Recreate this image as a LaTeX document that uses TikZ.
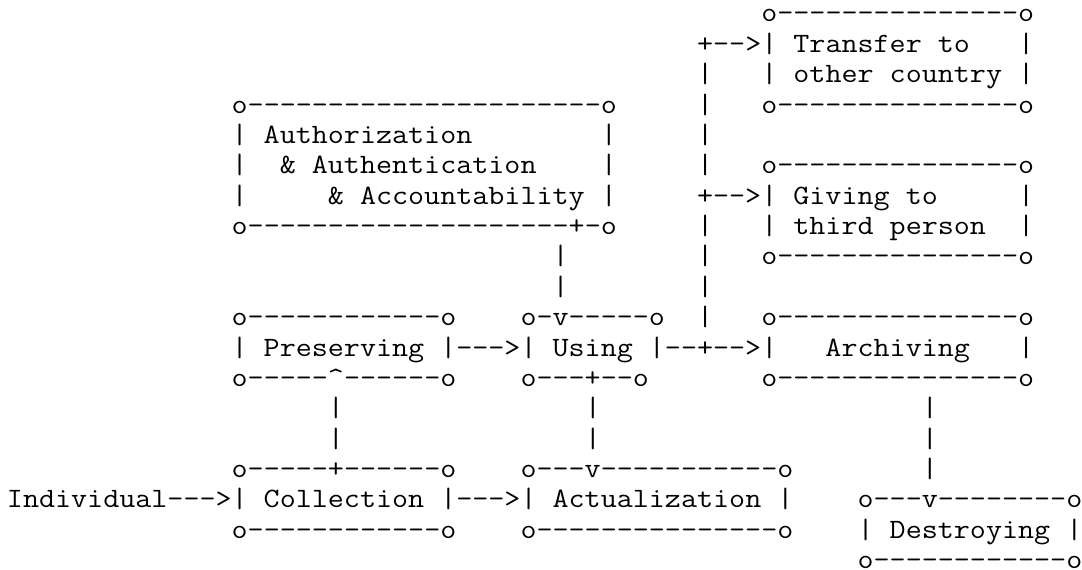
\documentclass[tikz,border=0pt]{standalone}
\usepackage{fontspec}
\setmonofont{Latin Modern Mono}
\newlength{\asciiwd}
\newcommand{\asciifont}{\ttfamily\fontsize{14}{16}\selectfont}
\tikzset{asciirow/.style={anchor=base west, inner sep=0pt, outer sep=0pt,
    font=\asciifont, xscale={8.025pt/\asciiwd}}}
\begin{document}
% stretch the glyphs so that one character is one column wide
\settowidth{\asciiwd}{\asciifont o}%
\begin{tikzpicture}[x=8.025pt, y=-15.185pt]
    \useasboundingbox (-0.4346,0.2756) rectangle (66.98,19.044);
    % one node per text line, placed at its first column
    \node[asciirow] (line1) at (47,1) {o---------------o};
    \node[asciirow] (line2) at (43,2) {+-->| Transfer to~~~|};
    \node[asciirow] (line3) at (43,3) {|~~~| other country |};
    \node[asciirow] (line4) at (14,4) {o----------------------o~~~~~|~~~o---------------o};
    \node[asciirow] (line5) at (14,5) {| Authorization~~~~~~~~|~~~~~|};
    \node[asciirow] (line6) at (14,6) {|~~\& Authentication~~~~|~~~~~|~~~o---------------o};
    \node[asciirow] (line7) at (14,7) {|~~~~~\& Accountability |~~~~~+-->| Giving to~~~~~|};
    \node[asciirow] (line8) at (14,8) {o--------------------+-o~~~~~|~~~| third person~~|};
    \node[asciirow] (line9) at (34,9) {|~~~~~~~~|~~~o---------------o};
    \node[asciirow] (line10) at (34,10) {|~~~~~~~~|};
    \node[asciirow] (line11) at (14,11) {o------------o~~~~o-v-----o~~|~~~o---------------o};
    \node[asciirow] (line12) at (14,12) {| Preserving |--->| Using |--+-->|~~~Archiving~~~|};
    \node[asciirow] (line13) at (14,13) {o-----\textasciicircum------o~~~~o---+--o~~~~~~~o---------------o};
    % the three vertical links below the middle row
    \foreach \r in {14,15}
        \foreach \c in {20,36,57}
            \node[asciirow] (bar\r-\c) at (\c,\r) {|};
    \node[asciirow] (line16) at (14,16) {o-----+------o~~~~o---v-----------o~~~~~~~~|};
    \node[asciirow] (line17) at (0,17) {Individual--->| Collection |--->| Actualization |~~~~o---v--------o};
    \node[asciirow] (line18) at (14,18) {o------------o~~~~o---------------o~~~~| Destroying |};
    \node[asciirow] (line19) at (53,19) {o------------o};
\end{tikzpicture}
\end{document}
